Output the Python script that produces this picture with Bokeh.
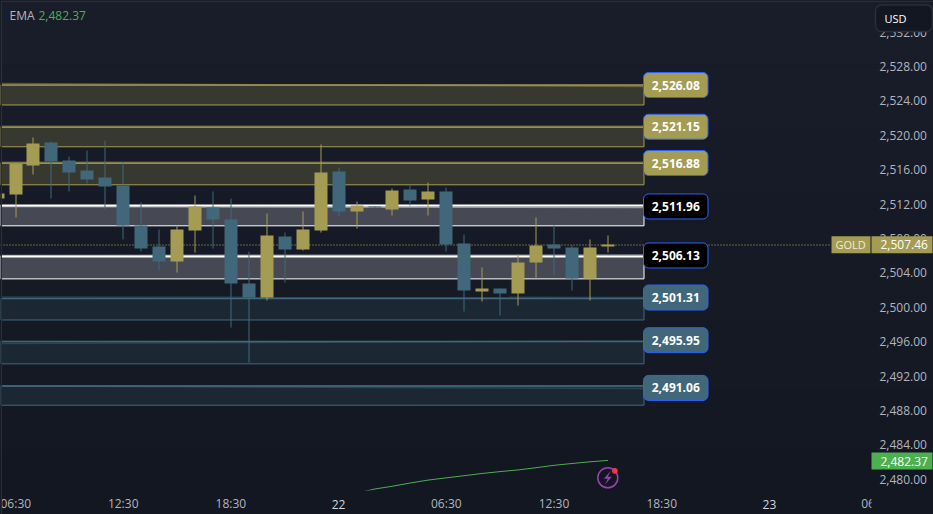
from bokeh.plotting import figure
from bokeh.embed import file_html
from bokeh.resources import INLINE
from bokeh.models import Range1d, LinearAxis, FixedTicker, BoxAnnotation, ColumnDataSource
from bokeh.core.properties import value
import numpy as np

FONT = "Open Sans"

# --- data ---
bar_index = list(range(-1, 34))
open_ = [2512.82,2513.29,2516.66,2519.33,2517.24,2516.08,2515.26,2514.33,2509.68,2507.24,2505.50,2509.10,2511.78,2510.38,2502.94,2501.31,2508.40,2506.89,2509.10,2515.96,2511.31,2511.89,2511.54,2513.87,2512.71,2513.64,2507.59,2502.01,2502.36,2501.78,2505.38,2507.47,2507.13,2503.52,2507.24]
close = [2513.40,2516.85,2519.22,2517.13,2515.85,2515.03,2514.22,2509.68,2507.01,2505.50,2509.22,2511.89,2510.38,2502.94,2501.31,2508.52,2506.89,2509.22,2515.85,2511.31,2512.01,2511.78,2513.75,2512.59,2513.64,2507.47,2502.13,2502.36,2501.78,2505.38,2507.36,2507.01,2503.52,2507.13,2507.47]
high  = [2513.40,2516.97,2519.92,2519.45,2517.71,2518.40,2519.57,2517.01,2512.36,2509.22,2509.68,2513.17,2513.64,2512.82,2506.66,2511.08,2508.87,2511.31,2519.10,2516.43,2512.47,2511.89,2513.99,2514.45,2514.68,2514.10,2508.64,2504.80,2502.36,2506.31,2510.61,2509.68,2507.36,2508.06,2508.52]
low   = [2512.82,2510.61,2515.61,2512.82,2513.64,2514.57,2511.54,2508.06,2506.66,2504.45,2504.22,2506.54,2507.01,2497.82,2493.75,2500.96,2503.06,2506.78,2508.87,2510.73,2509.33,2511.66,2510.85,2512.01,2510.85,2506.66,2499.68,2500.85,2499.22,2500.38,2503.40,2503.99,2502.13,2500.96,2506.54]

ema_index = list(range(19, 34))
ema = [2478.57,2479.05,2479.36,2479.74,2480.08,2480.34,2480.59,2480.85,2481.07,2481.26,2481.52,2481.80,2482.01,2482.21,2482.37]

zone_labels = ["2,526.08","2,521.15","2,516.88","2,511.96","2,506.13","2,501.31","2,495.95","2,491.06"]
zone_label_y = [2526.02,2521.17,2516.95,2511.90,2506.20,2501.31,2496.35,2490.80]
zone_top = [2526.02,2521.12,2516.93,2512.01,2506.08,2501.20,2496.20,2491.03]
zone_bottom = [2523.70,2518.84,2514.42,2509.65,2503.48,2498.70,2493.60,2488.79]
trend_left = [2526.20,2521.22,2517.05,2511.89,2506.20,2501.37,2495.97,2491.03]
trend_right = [2525.85,2521.22,2517.05,2511.78,2506.25,2501.32,2496.25,2490.72]
zone_kind = ["gold","gold","gold","white","white","teal","teal","teal"]
KIND_FILL = {"gold": "#373830", "white": "#464953", "teal": "#1b2833"}
KIND_LINE = {"gold": "#a59c53", "white": "#ffffff", "teal": "#41687a"}
KIND_LABEL = {"gold": "#a59c53", "white": "#000000", "teal": "#41687a"}
KIND_TOP_W = {"gold": 1, "white": 2, "teal": 1.5}

last_price = 2507.46
last_line_price = 2507.42
ema_last = 2482.37
y_ticks = list(range(2480, 2536, 4))
x_ticks = [0, 6, 12, 24, 30, 36, 47.5]
x_tick_labels = ["06:30", "12:30", "18:30", "06:30", "12:30", "18:30", "06"]
day_ticks = [18, 42]
day_tick_labels = ["22", "23"]

# --- scales ---
W, H, PANE_W, PANE_H = 933, 514, 871, 490
X0, DX = 15.0, 17.95
PY = 8.6
TICK_NUDGE = 0.17   # the reference's tick texts sit about 1.5px above their true level
def xd(px): return (px - X0) / DX
def yd(py): return 2528 - (py - 67.5) / PY

p = figure(width=W, height=H, output_backend="svg", toolbar_location=None,
           x_range=Range1d(xd(0), xd(W)), y_range=Range1d(yd(H), yd(0)),
           x_axis_type=None, y_axis_type=None,
           min_border_left=0, min_border_top=0, min_border_right=0, min_border_bottom=0,
           border_fill_color="#131722", background_fill_alpha=0, outline_line_color=None)
p.grid.visible = False

SCREEN = dict(left_units="screen", right_units="screen", top_units="screen", bottom_units="screen")

# background gradient (top lighter); screen y counts from the bottom
c_top, c_bot = np.array([25, 29, 41]), np.array([19, 23, 34])
n = 8
for i in range(n):
    f = i / (n - 1)
    c = np.round(c_top + (c_bot - c_top) * f).astype(int)
    p.add_layout(BoxAnnotation(left=0, right=W, top=H * (1 - i / n), bottom=H * (1 - (i + 1) / n), **SCREEN,
                               fill_color="#%02x%02x%02x" % tuple(c), fill_alpha=1, line_color=None, level="underlay"))

# axes
y_tick_pos = [round(t + TICK_NUDGE, 2) for t in y_ticks]
ax_r = LinearAxis(ticker=FixedTicker(ticks=y_tick_pos), fixed_location=xd(PANE_W),
                  major_label_overrides={tp: f"{t:,.2f}" for tp, t in zip(y_tick_pos, y_ticks)})
ax_b = LinearAxis(ticker=FixedTicker(ticks=x_ticks), fixed_location=yd(PANE_H),
                  major_label_overrides=dict(zip(x_ticks, x_tick_labels)))
ax_d = LinearAxis(ticker=FixedTicker(ticks=day_ticks), fixed_location=yd(PANE_H),
                  major_label_overrides=dict(zip(day_ticks, day_tick_labels)))
for ax in (ax_r, ax_b, ax_d):
    ax.axis_line_color = None
    ax.major_tick_line_color = None
    ax.minor_tick_line_color = None
    ax.major_tick_in = 0
    ax.major_tick_out = 0
    ax.minor_tick_out = 0
    ax.major_label_text_font = FONT
    ax.major_label_text_font_size = "12px"
    ax.major_label_text_color = "#b2b5be"
ax_d.major_label_text_color = "#d1d4dc"
ax_r.major_label_standoff = 8
ax_b.major_label_standoff = 4
ax_d.major_label_standoff = 9
p.add_layout(ax_r, "right")
p.add_layout(ax_b, "below")
p.add_layout(ax_d, "below")

# zones
RIGHT = xd(643.5)
LEFT = xd(0)
for i, k in enumerate(zone_kind):
    p.quad(left=LEFT, right=RIGHT, top=zone_top[i], bottom=zone_bottom[i],
           fill_color=KIND_FILL[k], line_color=KIND_LINE[k], line_width=1)
    p.line([LEFT, RIGHT], [trend_left[i], trend_right[i]], line_color=KIND_LINE[k], line_alpha=0.45, line_width=1.5)
    p.line([LEFT, RIGHT], [zone_top[i], zone_top[i]], line_color=KIND_LINE[k], line_width=KIND_TOP_W[k])

# last price line
p.line([xd(0), xd(831)], [last_line_price, last_line_price], line_color="#b8ae5c", line_width=1.2, line_dash="1 2")

# candles
snap = [(np.floor(X0 + DX * i) + 0.5 - X0) / DX for i in bar_index]
colors = ["#a59c53" if c >= o else "#41687a" for o, c in zip(open_, close)]
src = ColumnDataSource(dict(x=snap, open=open_, close=close, high=high, low=low, color=colors))
p.segment(x0="x", x1="x", y0="low", y1="high", line_color="color", line_width=1, source=src)
p.vbar(x="x", width=13 / DX, top="open", bottom="close", fill_color="color", line_color=None, source=src)

# EMA, clipped by the time-axis strip below the pane
p.line([(np.floor(X0 + DX * i) + 0.5 - X0) / DX for i in ema_index], ema, line_color="#4caf50", line_width=1)
p.quad(left=xd(0), right=xd(W), top=yd(PANE_H), bottom=yd(H), fill_color="#131722", line_color=None)

# zone labels
lab_w, lab_h = 64.5, 25
cx = xd(643 + lab_w / 2)
fills = [KIND_LABEL[k] for k in zone_kind]
lsrc = ColumnDataSource(dict(y=zone_label_y, text=zone_labels, fill=fills))
p.rect(x=cx, y="y", width=lab_w / DX, height=lab_h / PY, fill_color="fill", line_color="#2962ff", line_width=1,
       border_radius=5, source=lsrc)
p.text(x=cx, y="y", text="text", text_color="#ffffff", text_font=value(FONT), text_font_size="12px",
       text_font_style="bold", text_align="center", text_baseline="middle", source=lsrc)

# alert icon
ic_x, ic_y = xd(607.3), yd(477.3)
p.scatter([ic_x], [ic_y], size=20, marker="circle", fill_color=None, line_color="#9c3fb5", line_width=1.5)
bolt_x = np.array([3, -4, 0, -3, 4, 0]) / DX + ic_x
bolt_y = np.array([7, -1, -1, -7, 1, 1]) / PY + ic_y
p.patch(bolt_x, bolt_y, fill_color="#9c3fb5", line_color=None)
p.scatter([xd(614.3)], [yd(470.3)], size=5, marker="circle", fill_color="#f23645", line_color="#f23645", line_width=1)

# clip the last time label at the price-axis edge, window edges
p.add_layout(BoxAnnotation(left=PANE_W, right=W, top=H - PANE_H, bottom=0, **SCREEN,
                           fill_color="#131722", fill_alpha=1, line_color=None, level="overlay"))
for kw in (dict(left=0, right=1.5, top=H, bottom=0), dict(left=0, right=W, top=H, bottom=H - 1.5)):
    p.add_layout(BoxAnnotation(**SCREEN, fill_color="#2a2e39", fill_alpha=1, line_color=None, level="overlay", **kw))

def box(x0, x1, y0, y1, fill):
    p.quad(left=xd(x0), right=xd(x1), top=yd(y0), bottom=yd(y1), fill_color=fill, line_color=None, level="overlay")

def txt(x, y, text, color, size="12px"):
    p.text(x=[xd(x)], y=[yd(y)], text=[text], text_color=color, text_font=value(FONT), text_font_size=size,
           text_align="left", text_baseline="middle", level="overlay")

box(831, 870, 235.7, 252.7, "#a59c53")
txt(835, 244.2, "GOLD", "#f0ecd6", "11px")
box(871, 932, 235.7, 252.7, "#a59c53")
txt(880, 244.2, f"{last_price:,.2f}", "#ffffff")
box(871, 932, 452, 469, "#4caf50")
txt(880, 460.5, f"{ema_last:,.2f}", "#ffffff")
p.rect(x=[xd(903.5)], y=[yd(17.75)], width=57 / DX, height=26.5 / PY, fill_color="#131722", line_color="#2a2e39",
       line_width=1.5, border_radius=6, level="overlay")
txt(884, 18, "USD", "#ffffff", "11px")
txt(9, 15, "EMA", "#b2b5be")
txt(38, 15, f"{ema_last:,.2f}", "#4caf50")

html = file_html(p, INLINE)
html = html.replace("<body>", '<body style="margin:0;background:#131722">')
open("out.html", "w").write(html)
